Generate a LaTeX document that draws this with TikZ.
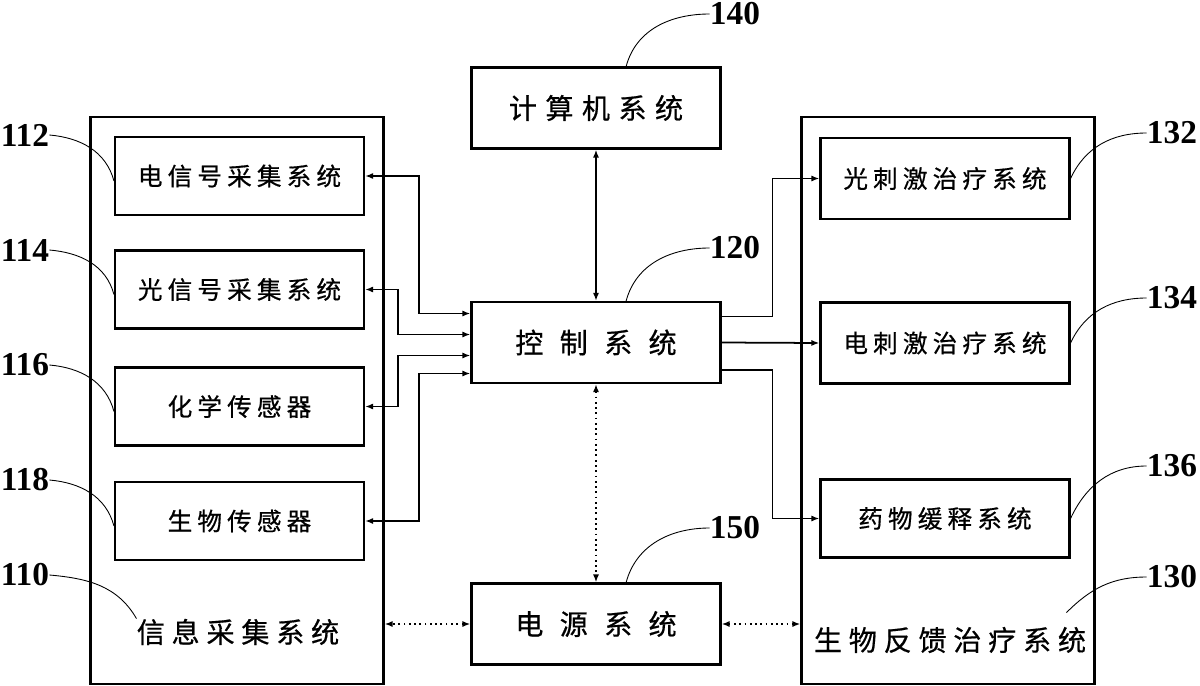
\documentclass[tikz,border=0pt]{standalone}
\usepackage{fontspec}
\setmainfont{Liberation Serif}
\newfontfamily\cjksub[LetterSpace=21,FakeBold=0.6]{Noto Sans CJK SC}
\newfontfamily\cjkcomp[LetterSpace=30,FakeBold=0.6]{Noto Sans CJK SC}
\newfontfamily\cjkctrl[LetterSpace=58,FakeBold=0.6]{Noto Sans CJK SC}
\newfontfamily\cjkbig[LetterSpace=24,FakeBold=0.6]{Noto Sans CJK SC}
\usetikzlibrary{arrows.meta,calc}

\begin{document}
\begin{tikzpicture}[
 x=0.02cm, y=-0.02cm,
 box/.style={draw, line width=1.2pt, minimum width=4.98cm, minimum height=1.62cm, inner sep=0pt},
 sub/.style={draw, line width=1.2pt, minimum width=4.98cm, minimum height=1.56cm, inner sep=0pt,
   font={\cjksub\fontsize{14pt}{16pt}\selectfont}},
 frame/.style={draw, line width=1.2pt, minimum width=5.86cm, minimum height=11.34cm, inner sep=0pt},
 num/.style={font={\bfseries\fontsize{19pt}{21pt}\selectfont}, inner sep=0pt},
 lead/.style={line width=0.5pt},
 arr/.style={line width=1pt, -{Latex[length=1.6mm,width=1.2mm]}},
 darr/.style={line width=1pt, {Latex[length=1.6mm,width=1.2mm]}-{Latex[length=1.6mm,width=1.2mm]}},
 darrdot/.style={darr, dotted}
]
\path[use as bounding box] (0,0) rectangle (1200,686);

% 外框
\node[frame] (left) at (237,400.5) {};
\node[frame] (right) at (948,400.5) {};
\node[inner sep=0pt, font={\cjkbig\fontsize{16pt}{18pt}\selectfont}] (tinfo) at (238,632) {信息采集系统};
\node[inner sep=0pt, font={\cjkbig\fontsize{16pt}{18pt}\selectfont}] (tbio) at (950,640) {生物反馈治疗系统};

% 中间
\node[box, font={\cjkcomp\fontsize{16pt}{18pt}\selectfont}] (comp) at (596,108) {计算机系统};
\node[box, font={\cjkctrl\fontsize{16pt}{18pt}\selectfont}] (ctrl) at (596,342.5) {控制系统};
\node[box, font={\cjkctrl\fontsize{16pt}{18pt}\selectfont}] (power) at (596,624) {电源系统};

% 信息采集
\node[sub] (s112) at (239.5,176) {电信号采集系统};
\node[sub] (s114) at (239.5,289.5) {光信号采集系统};
\node[sub] (s116) at (239.5,406.5) {化学传感器};
\node[sub] (s118) at (239.5,521) {生物传感器};

% 治疗
\node[sub, minimum height=1.62cm] (r132) at (945,178.5) {光刺激治疗系统};
\node[sub, minimum height=1.62cm] (r134) at (945,343) {电刺激治疗系统};
\node[sub] (r136) at (945,518.5) {药物缓释系统};

% 编号
\node[num] (n140) at (735,14) {140};
\node[num] (n120) at (735,248) {120};
\node[num] (n150) at (735,528) {150};
\node[num] (n112) at (25,135) {112};
\node[num] (n114) at (25,250) {114};
\node[num] (n116) at (25,365) {116};
\node[num] (n118) at (25,480) {118};
\node[num] (n110) at (25,575) {110};
\node[num] (n132) at (1172,133) {132};
\node[num] (n134) at (1172,298) {134};
\node[num] (n136) at (1172,466) {136};
\node[num] (n130) at (1172,577) {130};

% 引线
\draw[lead] (n140.west) to[out=180,in=75] ($(comp.north west)!0.62!(comp.north east)$);
\draw[lead] (n120.west) to[out=180,in=75] ($(ctrl.north west)!0.62!(ctrl.north east)$);
\draw[lead] (n150.west) to[out=180,in=75] ($(power.north west)!0.62!(power.north east)$);
\draw[lead] (n112.east) to[out=-5,in=105] ($(s112.west)+(0,5)$);
\draw[lead] (n114.east) to[out=-5,in=105] ($(s114.west)+(0,5)$);
\draw[lead] (n116.east) to[out=-5,in=105] ($(s116.west)+(0,5)$);
\draw[lead] (n118.east) to[out=-5,in=105] ($(s118.west)+(0,5)$);
\draw[lead] (n110.east) to[out=-5,in=120] (tinfo.north west);
\draw[lead] (n132.west) to[out=180,in=65] (r132.east);
\draw[lead] (n134.west) to[out=180,in=65] (r134.east);
\draw[lead] (n136.west) to[out=180,in=65] (r136.east);
\draw[lead] (n130.west) to[out=180,in=45] ($(tbio.north east)+(-20,-14)$);

% 箭头
\draw[darr] (comp.south) -- (ctrl.north);
\draw[darr] (s112.east) -- ++(54,0) |- ($(ctrl.west)+(0,-29)$);
\draw[darr] (s114.east) -- ++(33,0) |- ($(ctrl.west)+(0,-8)$);
\draw[darr] (s116.east) -- ++(33,0) |- ($(ctrl.west)+(0,13)$);
\draw[darr] (s118.east) -- ++(54,0) |- ($(ctrl.west)+(0,31)$);
\draw[arr] ($(ctrl.east)+(0,-26)$) -- ++(51,0) |- (r132.west);
\draw[arr] (ctrl.east) -- (r134.west);
\draw[arr] ($(ctrl.east)+(0,27.5)$) -- ++(51,0) |- (r136.west);
\draw[darrdot] (ctrl.south) -- (power.north);
\draw[darrdot] (power.west) -- (power.west -| left.east);
\draw[darrdot] (power.east) -- (power.east -| right.west);

\end{tikzpicture}
\end{document}
